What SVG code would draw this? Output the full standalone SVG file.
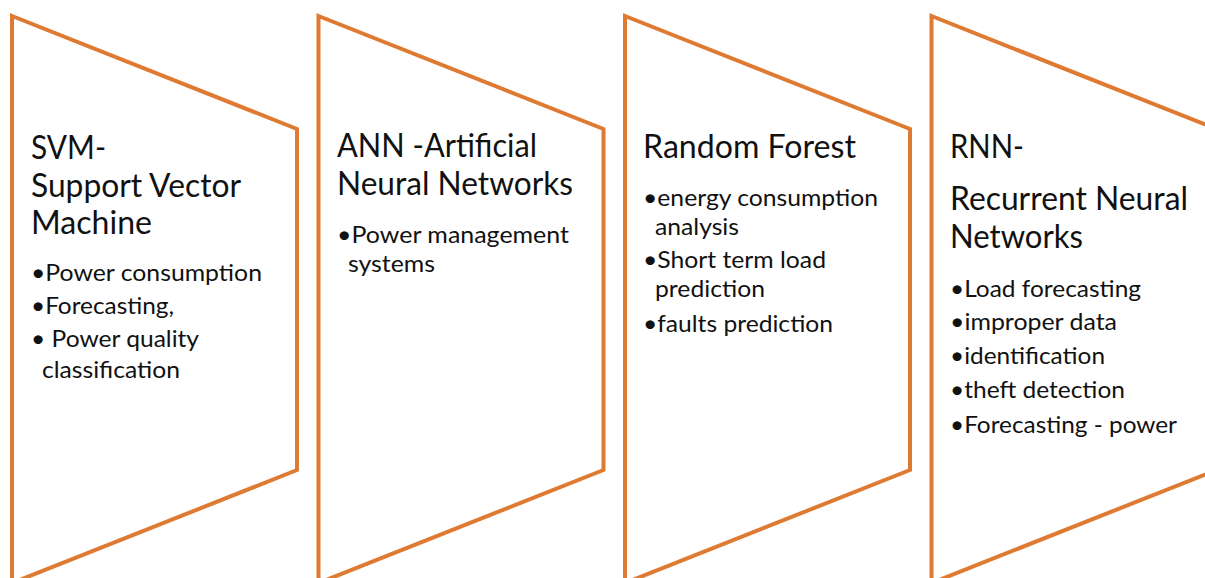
<svg xmlns="http://www.w3.org/2000/svg" width="1205" height="578" viewBox="0 0 1205 578">
  <defs>
    <style>
      .shape { fill: #ffffff; stroke: #DF7A33; stroke-width: 4; stroke-linejoin: miter; }
      .title { font-family: Lato, "Open Sans", "Liberation Sans", sans-serif; font-size: 32px; fill: #111111; }
      .item { font-family: Lato, "Open Sans", "Liberation Sans", sans-serif; font-size: 24px; fill: #111111; }
    </style>
    <!-- Chevron panel: vertical left edge, slanted top and bottom, short right edge -->
    <polygon id="panel" points="0,16 285,129 285,470 0,583"/>
  </defs>
  <rect width="1205" height="578" fill="#ffffff"/>

  <g id="svm">
    <use href="#panel" class="shape" x="12"/>
    <text class="title" x="31" y="159" textLength="75" lengthAdjust="spacingAndGlyphs">SVM-</text>
    <text class="title" x="31" y="197" textLength="210" lengthAdjust="spacingAndGlyphs">Support Vector</text>
    <text class="title" x="31" y="234" textLength="121" lengthAdjust="spacingAndGlyphs">Machine</text>
    <text class="item" x="31" y="281" textLength="231" lengthAdjust="spacingAndGlyphs">•Power consumption</text>
    <text class="item" x="31" y="314" textLength="143" lengthAdjust="spacingAndGlyphs">•Forecasting,</text>
    <text class="item" x="31" y="347" textLength="168" lengthAdjust="spacingAndGlyphs">• Power quality</text>
    <text class="item" x="42" y="378" textLength="138" lengthAdjust="spacingAndGlyphs">classification</text>
  </g>

  <g id="ann">
    <use href="#panel" class="shape" x="318.5"/>
    <text class="title" x="337" y="157" textLength="200" lengthAdjust="spacingAndGlyphs">ANN -Artificial</text>
    <text class="title" x="337" y="195" textLength="236" lengthAdjust="spacingAndGlyphs">Neural Networks</text>
    <text class="item" x="337" y="243" textLength="232" lengthAdjust="spacingAndGlyphs">•Power management</text>
    <text class="item" x="348" y="272" textLength="87" lengthAdjust="spacingAndGlyphs">systems</text>
  </g>

  <g id="random-forest">
    <use href="#panel" class="shape" x="625"/>
    <text class="title" x="643" y="158" textLength="213" lengthAdjust="spacingAndGlyphs">Random Forest</text>
    <text class="item" x="643" y="206" textLength="235" lengthAdjust="spacingAndGlyphs">•energy consumption</text>
    <text class="item" x="655" y="235" textLength="84" lengthAdjust="spacingAndGlyphs">analysis</text>
    <text class="item" x="643" y="268" textLength="183" lengthAdjust="spacingAndGlyphs">•Short term load</text>
    <text class="item" x="655" y="297" textLength="110" lengthAdjust="spacingAndGlyphs">prediction</text>
    <text class="item" x="643" y="332" textLength="190" lengthAdjust="spacingAndGlyphs">•faults prediction</text>
  </g>

  <g id="rnn">
    <use href="#panel" class="shape" x="931.5"/>
    <text class="title" x="950" y="158" textLength="74" lengthAdjust="spacingAndGlyphs">RNN-</text>
    <text class="title" x="950" y="210" textLength="238" lengthAdjust="spacingAndGlyphs">Recurrent Neural</text>
    <text class="title" x="950" y="248" textLength="133" lengthAdjust="spacingAndGlyphs">Networks</text>
    <text class="item" x="950" y="297" textLength="191" lengthAdjust="spacingAndGlyphs">•Load forecasting</text>
    <text class="item" x="950" y="330" textLength="167" lengthAdjust="spacingAndGlyphs">•improper data</text>
    <text class="item" x="950" y="364" textLength="155" lengthAdjust="spacingAndGlyphs">•identification</text>
    <text class="item" x="950" y="398" textLength="175" lengthAdjust="spacingAndGlyphs">•theft detection</text>
    <text class="item" x="950" y="433" textLength="227" lengthAdjust="spacingAndGlyphs">•Forecasting - power</text>
  </g>

  <g id="connectors"/>
</svg>
